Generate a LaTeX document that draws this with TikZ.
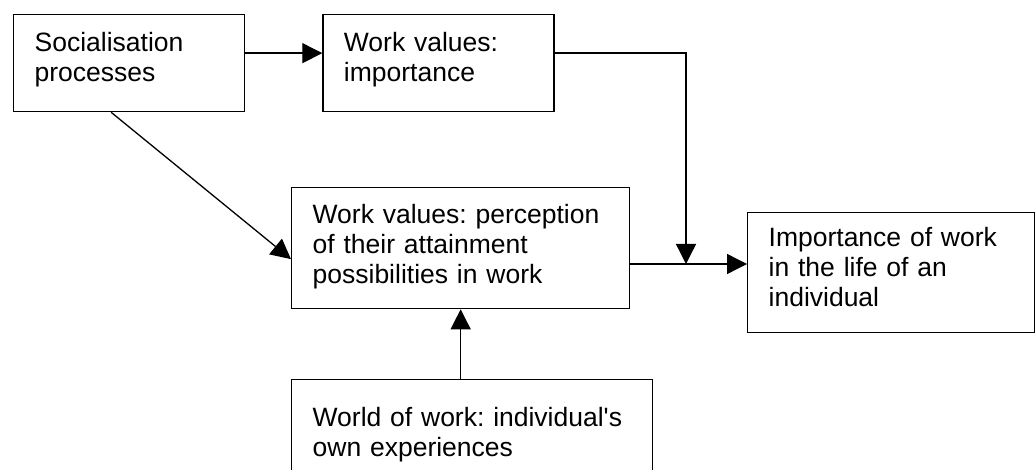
\documentclass[tikz,border=0pt]{standalone}
\usepackage{fontspec}
\setmainfont{Liberation Sans}
\usetikzlibrary{arrows.meta,positioning}

\tikzset{
  box/.style={draw, rectangle, line width=1.3pt, anchor=north west, align=left,
    inner xsep=21pt, inner ysep=0pt, font=\fontsize{26.5}{30}\selectfont\frenchspacing},
  arr/.style={line width=1.3pt, -{Triangle[length=20pt,width=20pt]}}
}

\begin{document}
\begin{tikzpicture}[x=1pt,y=-1pt]

  \useasboundingbox (0,0) rectangle (1035,470);
  \clip (0,0) rectangle (1035,470);

  \node[box,text width=189pt,text height=37pt,text depth=60pt] (soc) at (13,14)
    {Socialisation\\processes};
  \node[box,text width=189pt,text height=37pt,text depth=60pt,right=77pt of soc] (imp)
    {Work values:\\importance};

  \node[box,text width=296pt,text height=36pt,text depth=85pt] (perc) at (291,187)
    {Work values: perception\\of their attainment\\possibilities in work};
  \node[box,text width=319pt,text height=47pt,text depth=74pt] (world) at (291,379)
    {World of work: individual\textquotesingle s\\own experiences};

  \node[box,text width=245pt,text height=34pt,text depth=86pt] (out) at (747,212)
    {Importance of work\\in the life of an\\individual};

  \coordinate (join) at (686,264);

  \draw[arr] ([yshift=10pt]soc.east) -- ([yshift=10pt]imp.west);
  \draw[arr] ([xshift=-18pt]soc.south) -- ([yshift=-11pt]perc.west);
  \draw[arr] ([yshift=10pt]imp.east) -| (join);
  \draw[arr] (perc.east |- join) -- (out.west |- join);
  \draw[arr] (world.north -| perc.south) -- (perc.south);

\end{tikzpicture}
\end{document}
